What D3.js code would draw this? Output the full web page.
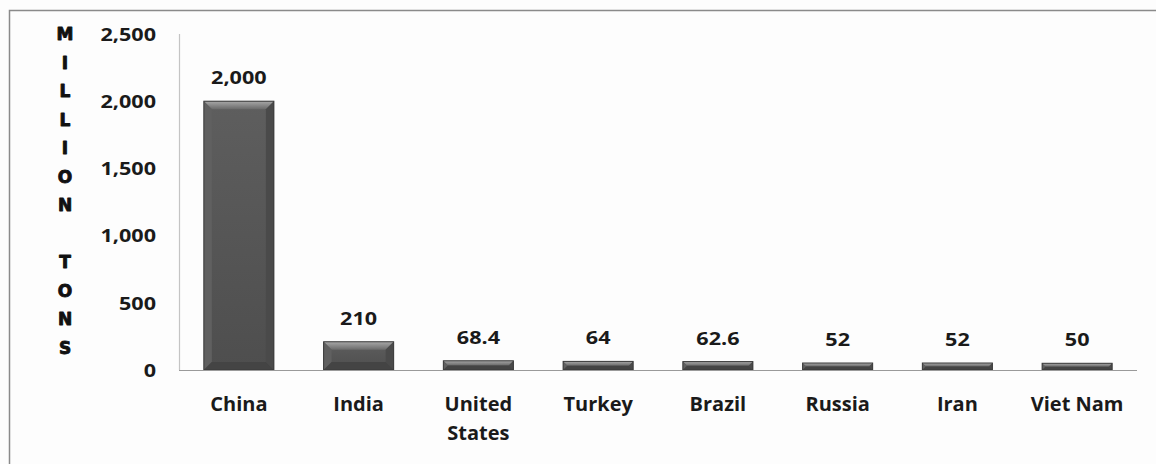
<!DOCTYPE html>
<html>
<head>
<meta charset="utf-8">
<script src="https://cdn.jsdelivr.net/npm/d3@7"></script>
<style>
html,body{margin:0;padding:0;background:#fdfdfd;}
svg{display:block;}
</style>
</head>
<body>
<svg id="chart" width="1156" height="464"></svg>
<script>
const countries = ["China", "India", "United States", "Turkey", "Brazil", "Russia", "Iran", "Viet Nam"];
const values = [2000, 210, 68.4, 64, 62.6, 52, 52, 50];
const valueLabels = ["2,000", "210", "68.4", "64", "62.6", "52", "52", "50"];
const yTicks = [0, 500, 1000, 1500, 2000, 2500];
const yTitle = "MILLION TONS";

const svg = d3.select("#chart");
const W = 1156, H = 464;

svg.append("rect").attr("x", 0).attr("y", 0).attr("width", W).attr("height", H).attr("fill", "#fdfdfd");
// outer frame (only top and left visible)
svg.append("rect").attr("x", 9.5).attr("y", 10.5).attr("width", 1300).attr("height", 600)
  .attr("fill", "none").attr("stroke", "#8a8a8a").attr("stroke-width", 1.5);

const x = d3.scaleBand().domain(countries).range([179, 1137]).paddingInner(0.415).paddingOuter(0.2075);
const y = d3.scaleLinear().domain([0, 2500]).range([370, 34]);

const defs = svg.append("defs");
const g1 = defs.append("linearGradient").attr("id", "barFill").attr("x1", 0).attr("x2", 0).attr("y1", 0).attr("y2", 1);
g1.append("stop").attr("offset", "0%").attr("stop-color", "#5e5e5e");
g1.append("stop").attr("offset", "100%").attr("stop-color", "#4e4e4e");
const g2 = defs.append("linearGradient").attr("id", "bevelTop").attr("x1", 0).attr("x2", 0).attr("y1", 0).attr("y2", 1);
g2.append("stop").attr("offset", "0%").attr("stop-color", "#a8a8a8");
g2.append("stop").attr("offset", "100%").attr("stop-color", "#6a6a6a");

// y axis line (light)
svg.append("line").attr("x1", 179.5).attr("x2", 179.5).attr("y1", y(2500)).attr("y2", y(0))
  .attr("stroke", "#c4c4c4").attr("stroke-width", 1.2);

// y tick labels
const yAxis = d3.axisLeft(y).tickValues(yTicks).tickSize(0).tickPadding(0).tickFormat(d3.format(","));
const ya = svg.append("g").attr("transform", "translate(156,0)").call(yAxis);
ya.select(".domain").remove();
ya.selectAll("text")
  .attr("font-family", "'Open Sans', sans-serif").attr("font-weight", 700).attr("font-size", 18)
  .attr("fill", "#1a1a1a").attr("dy", "0.35em").attr("x", 0)
  .attr("transform", "scale(1.2,1)");

// bars
const bars = svg.append("g");
countries.forEach((c, i) => {
  const bx = x(c), bw = x.bandwidth(), by = y(values[i]), bh = y(0) - y(values[i]);
  const b = Math.min(8, bh / 2);
  const gb = bars.append("g");
  gb.append("rect").attr("x", bx).attr("y", by).attr("width", bw).attr("height", bh)
    .attr("fill", "url(#barFill)");
  gb.append("path").attr("d", `M${bx},${by} L${bx + bw},${by} L${bx + bw - b},${by + b} L${bx + b},${by + b} Z`)
    .attr("fill", "url(#bevelTop)");
  gb.append("path").attr("d", `M${bx},${by} L${bx + b},${by + b} L${bx + b},${by + bh - b} L${bx},${by + bh} Z`)
    .attr("fill", "#606060");
  gb.append("path").attr("d", `M${bx + bw},${by} L${bx + bw - b},${by + b} L${bx + bw - b},${by + bh - b} L${bx + bw},${by + bh} Z`)
    .attr("fill", "#4a4a4a");
  gb.append("path").attr("d", `M${bx},${by + bh} L${bx + b},${by + bh - b} L${bx + bw - b},${by + bh - b} L${bx + bw},${by + bh} Z`)
    .attr("fill", "#444");
  gb.append("rect").attr("x", bx).attr("y", by).attr("width", bw).attr("height", bh)
    .attr("fill", "none").attr("stroke", "#3a3a3a").attr("stroke-width", 1);
});

// baseline
svg.append("line").attr("x1", 179).attr("x2", 1137).attr("y1", y(0) + 0.5).attr("y2", y(0) + 0.5)
  .attr("stroke", "#9a9a9a").attr("stroke-width", 1.2);

// value labels
countries.forEach((c, i) => {
  const cx = x(c) + x.bandwidth() / 2;
  svg.append("text")
    .attr("transform", `translate(${cx},${y(values[i]) - 17}) scale(1.2,1)`)
    .attr("text-anchor", "middle")
    .attr("font-family", "'Open Sans', sans-serif").attr("font-weight", 700).attr("font-size", 18)
    .attr("fill", "#1a1a1a").text(valueLabels[i]);
});

// category labels
const xAxis = d3.axisBottom(x).tickSize(0).tickPadding(0);
const xa = svg.append("g").attr("transform", `translate(0,${y(0)})`).call(xAxis);
xa.select(".domain").remove();
xa.selectAll("text").each(function(d) {
  const t = d3.select(this);
  t.text(null).attr("y", 0).attr("dy", null)
    .attr("font-family", "'Open Sans', sans-serif").attr("font-weight", 700).attr("font-size", 20)
    .attr("fill", "#1a1a1a");
  const parts = d === "United States" ? ["United", "States"] : [d];
  parts.forEach((p, k) => {
    t.append("tspan").attr("x", 0).attr("y", 41 + k * 29).text(p);
  });
});

// y title, stacked letters
const letters = yTitle.split("");
const tg = svg.append("g");
letters.forEach((ch, k) => {
  if (ch === " ") return;
  tg.append("text").attr("x", 65).attr("y", 34 + k * 28.5).attr("dy", "0.36em")
    .attr("text-anchor", "middle")
    .attr("font-family", "'DejaVu Sans', sans-serif").attr("font-weight", 700).attr("font-size", 17)
    .attr("fill", "#111").attr("stroke", "#111").attr("stroke-width", 0.9)
    .attr("stroke-linejoin", "round").text(ch);
});
</script>
</body>
</html>
